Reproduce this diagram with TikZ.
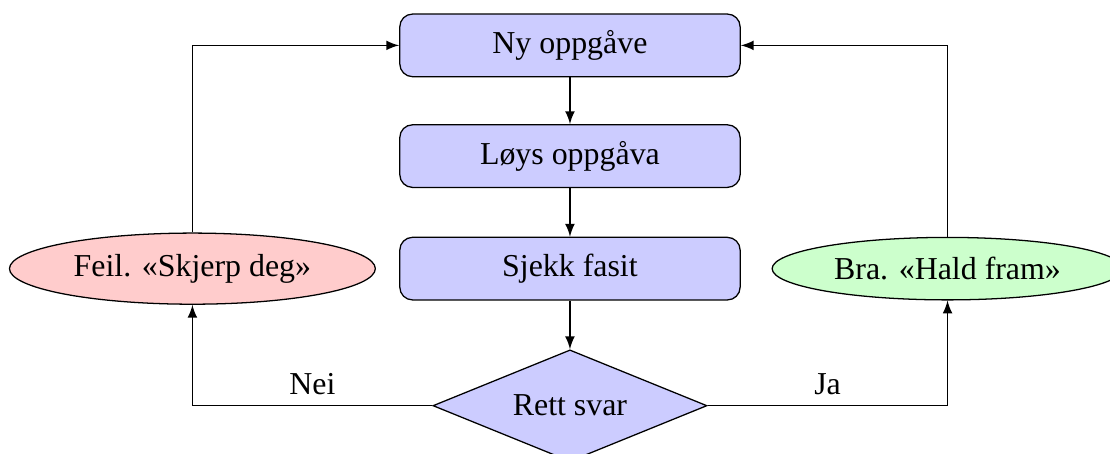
\documentclass[tikz,border=0pt]{standalone}
\usepackage{fontspec}
\setmainfont{Liberation Serif}
\usepackage{tikz}
\usetikzlibrary{shapes.geometric}

\begin{document}
\begin{tikzpicture}
            [auto=left,>=latex,
             stepbox/.style={rectangle,rounded corners,draw,fill=blue!20,minimum width=3.75cm,minimum height=0.69cm},
             choice/.style={diamond,draw,fill=blue!20,aspect=2.5,minimum width=3.02cm,minimum height=1.23cm,inner sep=0pt},
             feedback/.style={ellipse,draw}]
            \useasboundingbox (-6.28,0.50) rectangle (5.95,-4.50);
            \node[stepbox] (ny) at (0,0) {Ny oppgåve};
            \node[stepbox] (loys) at (0,-1.22) {Løys oppgåva};
            \node[stepbox] (sjekk) at (0,-2.46) {Sjekk fasit};
            \node[choice] (rett) at (0,-3.97) {Rett svar};
            \node[feedback,fill=red!20] (feil) at (-4.16,-2.46) {Feil. «Skjerp deg»};
            \node[feedback,fill=green!20] (bra) at (4.16,-2.46) {Bra. «Hald fram»};
            % the main line
            \draw[->] (ny) -- (loys);
            \draw[->] (loys) -- (sjekk);
            \draw[->] (sjekk) -- (rett);
            % the answers
            \draw[->] (rett.west) -| node[pos=0.25,above] {Nei} (feil.south);
            \draw[->] (rett.east) -| node[pos=0.25,above] {Ja} (bra.south);
            % back to the start
            \draw[->] (feil.north) |- (ny.west);
            \draw[->] (bra.north) |- (ny.east);
        \end{tikzpicture}
\end{document}
